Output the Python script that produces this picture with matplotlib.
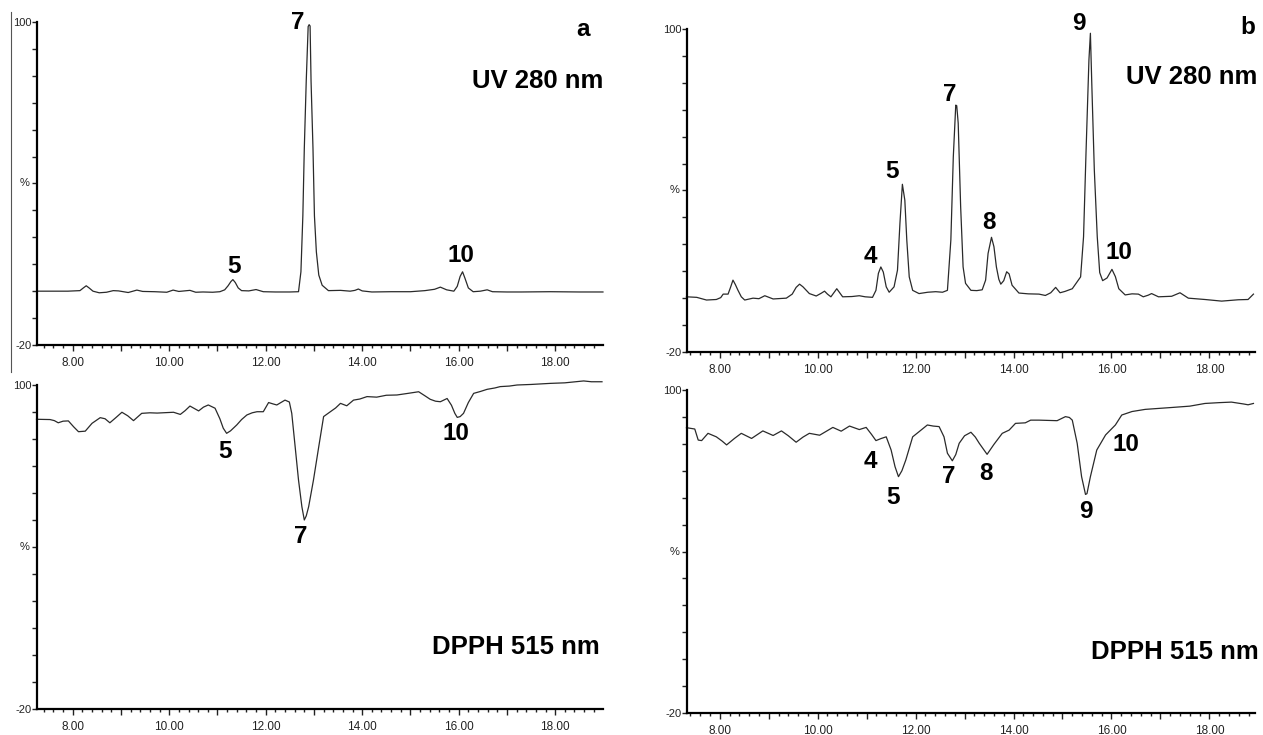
import matplotlib.pyplot as plt
import matplotlib.ticker as mticker
from matplotlib.lines import Line2D

plt.rcParams['font.family'] = ['Liberation Sans', 'DejaVu Sans']

# chromatogram a, UV 280 nm (retention time in min, intensity in %)
uv_a_t = [7.26, 7.9, 8.15, 8.22, 8.28, 8.34, 8.42, 8.55, 8.7, 8.84, 8.95, 9.15, 9.33, 9.45,
          9.7, 9.95, 10.08, 10.2, 10.43, 10.55, 10.7, 10.9, 11.05, 11.15, 11.22, 11.28, 11.32,
          11.37, 11.43, 11.5, 11.65, 11.8, 11.95, 12.2, 12.5, 12.68, 12.73, 12.77, 12.80,
          12.84, 12.88, 12.90, 12.92, 12.94, 12.98, 13.01, 13.05, 13.10, 13.17, 13.30, 13.55,
          13.75, 13.85, 13.92, 14.0, 14.2, 14.6, 15.0, 15.3, 15.5, 15.62, 15.75, 15.9, 15.97,
          16.03, 16.08, 16.13, 16.2, 16.3, 16.45, 16.59, 16.7, 17.0, 17.3, 17.9, 18.5, 18.99]
uv_a_v = [0, 0, 0.2, 1.2, 2.0, 1.2, 0, -0.6, -0.4, 0.2, 0.1, -0.5, 0.4, -0.1,
          -0.2, -0.4, 0.4, -0.1, 0.3, -0.4, -0.3, -0.4, -0.2, 0.5, 2.0, 3.6, 4.3,
          3.2, 1.2, 0.2, 0.1, 0.6, -0.2, -0.3, -0.3, -0.2, 7.2, 28, 53,
          78, 98.3, 99, 98.5, 78, 53, 28, 14.6, 6, 2.2, 0.2, 0.3,
          0, 0.3, 0.8, 0.1, -0.3, -0.2, -0.2, 0.2, 0.7, 1.5, 0.5, 0.0, 1.8,
          5.5, 7.2, 4.8, 1.2, -0.2, 0, 0.5, -0.2, -0.3, -0.3, -0.2, -0.3, -0.3]

# chromatogram a, DPPH 515 nm
dp_a_t = [7.25, 7.53, 7.62, 7.70, 7.80, 7.91, 8.02, 8.12, 8.26, 8.40, 8.57, 8.67, 8.77, 8.90,
          9.02, 9.14, 9.26, 9.43, 9.60, 9.75, 10.09, 10.23, 10.33, 10.43, 10.52, 10.61, 10.71,
          10.81, 10.95, 11.05, 11.12, 11.19, 11.27, 11.40, 11.50, 11.61, 11.72, 11.82, 11.95,
          12.06, 12.15, 12.23, 12.40, 12.49, 12.54, 12.61, 12.68, 12.75, 12.80, 12.84, 12.89,
          12.99, 13.10, 13.20, 13.34, 13.45, 13.55, 13.68, 13.82, 13.95, 14.10, 14.30, 14.50,
          14.72, 14.95, 15.17, 15.30, 15.41, 15.52, 15.62, 15.76, 15.85, 15.92, 15.97, 16.03,
          16.10, 16.20, 16.31, 16.45, 16.59, 16.75, 16.86, 17.05, 17.21, 17.5, 17.9, 18.2,
          18.59, 18.75, 18.97]
dp_a_v = [87.3, 87.2, 86.8, 86.0, 86.6, 86.7, 84.5, 82.7, 82.9, 85.8, 87.9, 87.5, 86.0, 88.0,
          89.9, 88.6, 86.8, 89.5, 89.7, 89.6, 89.9, 89.1, 90.5, 92.2, 91.3, 90.4, 91.8,
          92.6, 91.4, 87.5, 84.0, 82.1, 83.0, 85.2, 87.2, 88.9, 89.7, 90.1, 90.1,
          93.5, 93.0, 92.6, 94.4, 93.7, 89.5, 77.2, 64.8, 54.9, 50.0, 51.5, 54.9,
          64.8, 77.2, 88.3, 90.1, 91.5, 93.2, 92.3, 94.4, 94.8, 95.7, 95.5, 96.2,
          96.3, 96.9, 97.5, 96.0, 94.7, 94.0, 93.8, 95.0, 92.5, 89.5, 88.0, 88.3,
          89.5, 93.5, 96.9, 97.6, 98.4, 98.9, 99.4, 99.6, 100.0, 100.2, 100.6, 100.8,
          101.5, 101.2, 101.2]

# chromatogram b, UV 280 nm
uv_b_t = [7.32, 7.53, 7.73, 7.93, 8.02, 8.07, 8.17, 8.22, 8.27, 8.32, 8.37, 8.44, 8.51, 8.68,
          8.80, 8.92, 9.09, 9.36, 9.48, 9.56, 9.63, 9.70, 9.83, 9.97, 10.07, 10.14, 10.20,
          10.27, 10.33, 10.39, 10.45, 10.51, 10.70, 10.85, 10.97, 11.12, 11.19, 11.24, 11.29,
          11.34, 11.40, 11.46, 11.56, 11.63, 11.68, 11.73, 11.78, 11.82, 11.87, 11.94, 12.07,
          12.25, 12.41, 12.55, 12.65, 12.72, 12.77, 12.82, 12.84, 12.87, 12.92, 12.97, 13.02,
          13.13, 13.25, 13.36, 13.43, 13.48, 13.55, 13.60, 13.65, 13.70, 13.74, 13.80, 13.86,
          13.91, 13.97, 14.11, 14.30, 14.52, 14.65, 14.76, 14.86, 14.95, 15.05, 15.20, 15.37,
          15.43, 15.48, 15.54, 15.57, 15.60, 15.65, 15.71, 15.76, 15.82, 15.91, 16.01, 16.08,
          16.15, 16.28, 16.42, 16.55, 16.65, 16.75, 16.82, 16.96, 17.23, 17.40, 17.57, 17.91,
          18.25, 18.59, 18.79, 18.90]
uv_b_v = [0.5, 0.3, -0.7, -0.5, 0.2, 1.5, 1.5, 4.0, 6.7, 5.0, 3.0, 0.5, -0.7, 0.0,
          -0.2, 0.9, -0.3, 0.0, 1.5, 4.0, 5.2, 4.2, 1.7, 0.8, 1.8, 2.6, 1.5,
          0.5, 2.0, 3.5, 2.0, 0.5, 0.6, 0.9, 0.5, 0.3, 2.9, 9.2, 11.6,
          9.7, 4.2, 2.2, 4.2, 10.4, 27.8, 42.3, 36.4, 21.6, 7.9, 2.9, 1.7,
          2.2, 2.4, 2.2, 2.9, 21.6, 52.5, 71.7, 71.5, 65.0, 34.0, 11.6, 5.5,
          2.9, 2.8, 3.1, 6.7, 16.6, 22.6, 19.1, 11.6, 7.0, 5.2, 6.5, 9.8,
          9.0, 4.8, 1.9, 1.6, 1.5, 1.0, 2.0, 4.0, 2.0, 2.5, 3.5, 7.9,
          22.8, 53.8, 88.5, 98.4, 78.6, 47.6, 22.8, 9.5, 6.5, 7.5, 10.7, 8.0,
          3.5, 1.2, 1.6, 1.5, 0.5, 1.1, 1.7, 0.5, 0.7, 2.0, 0.0, -0.5,
          -1.1, -0.6, -0.5, 1.5]

# chromatogram b, DPPH 515 nm
dp_b_t = [7.32, 7.49, 7.56, 7.63, 7.76, 7.93, 8.05, 8.14, 8.30, 8.44, 8.65, 8.88, 9.09, 9.26,
          9.40, 9.56, 9.70, 9.83, 10.04, 10.31, 10.48, 10.65, 10.85, 10.99, 11.10, 11.19,
          11.30, 11.40, 11.50, 11.58, 11.65, 11.72, 11.80, 11.94, 12.07, 12.24, 12.36, 12.48,
          12.58, 12.65, 12.75, 12.82, 12.89, 13.00, 13.13, 13.22, 13.30, 13.46, 13.60, 13.77,
          13.91, 14.04, 14.24, 14.35, 14.52, 14.89, 15.06, 15.14, 15.20, 15.30, 15.39, 15.47,
          15.50, 15.57, 15.70, 15.88, 16.08, 16.21, 16.42, 16.69, 17.23, 17.60, 17.91, 18.20,
          18.45, 18.70, 18.79, 18.90]
dp_b_v = [86.0, 85.5, 81.4, 81.2, 83.9, 82.6, 81.0, 79.6, 82.0, 83.9, 82.0, 84.8, 83.1, 84.8,
          83.0, 80.6, 82.5, 83.9, 83.2, 86.1, 84.7, 86.6, 85.3, 86.1, 83.5, 81.2,
          82.0, 82.6, 77.7, 71.5, 67.8, 70.0, 74.0, 82.6, 84.5, 87.0, 86.6, 86.4,
          82.6, 76.5, 73.7, 76.0, 80.2, 83.0, 84.3, 82.5, 80.2, 76.1, 79.8, 83.9,
          85.1, 87.6, 87.8, 88.8, 88.8, 88.6, 90.1, 89.8, 88.8, 80.2, 67.8, 61.2,
          61.5, 67.8, 77.7, 83.3, 87.0, 90.7, 92.0, 92.8, 93.5, 94.0, 95.0, 95.3,
          95.5, 94.8, 94.5, 95.0]

# peak numbers: (label, time, %)
lab_uv_a = [('5', 11.35, 9.0), ('7', 12.67, 99.8), ('10', 16.04, 13.4)]
lab_dp_a = [('5', 11.16, 75.2), ('7', 12.73, 43.8), ('10', 15.95, 82.2)]
lab_uv_b = [('4', 11.08, 15.4), ('5', 11.52, 47.2), ('7', 12.70, 75.8), ('8', 13.50, 28.1),
            ('9', 15.33, 102.1), ('10', 16.15, 16.9)]
lab_dp_b = [('4', 11.07, 73.6), ('5', 11.54, 60.0), ('7', 12.68, 67.8), ('8', 13.43, 68.8),
            ('9', 15.47, 54.8), ('10', 16.30, 79.9)]

fig = plt.figure(figsize=(12.63, 7.35), dpi=100)

ax1 = fig.add_axes([0.0293, 0.5306, 0.4481, 0.4395])
ax2 = fig.add_axes([0.0293, 0.0354, 0.4481, 0.4408])
ax3 = fig.add_axes([0.5439, 0.5211, 0.4497, 0.4395])
ax4 = fig.add_axes([0.5439, 0.0299, 0.4497, 0.4395])


def setup(ax, xlim):
    ax.set_xlim(*xlim)
    ax.set_ylim(-20, 100)
    ax.spines['top'].set_visible(False)
    ax.spines['right'].set_visible(False)
    ax.spines['left'].set_linewidth(1.6)
    ax.spines['bottom'].set_linewidth(1.6)
    ax.yaxis.set_major_locator(mticker.FixedLocator(range(-20, 101, 10)))
    ax.yaxis.set_major_formatter(mticker.FuncFormatter(
        lambda v, p: '%d' % v if round(v) in (100, -20) else ''))
    ax.xaxis.set_major_locator(mticker.MultipleLocator(1))
    ax.xaxis.set_minor_locator(mticker.MultipleLocator(0.2))
    ax.xaxis.set_major_formatter(mticker.FuncFormatter(
        lambda v, p: '%.2f' % v if round(v) % 2 == 0 else ''))
    ax.tick_params(axis='y', length=3.5, width=1, pad=0.5, labelsize=8, colors='#222')
    ax.tick_params(axis='x', which='major', length=4.5, width=1, pad=4, labelsize=8.5,
                   colors='#222')
    ax.tick_params(axis='x', which='minor', length=2, width=1, colors='#222')
    ax.text(-0.022, 40, '%', transform=ax.get_yaxis_transform(), ha='center', va='center',
            fontsize=8, color='#222')


setup(ax1, (7.26, 18.99))
setup(ax2, (7.26, 18.99))
setup(ax3, (7.33, 18.93))
setup(ax4, (7.33, 18.93))

line_kw = dict(color='#2a2a2a', lw=0.9, clip_on=False, solid_joinstyle='round')
ax1.plot(uv_a_t, uv_a_v, **line_kw)
ax2.plot(dp_a_t, dp_a_v, **line_kw)
ax3.plot(uv_b_t, uv_b_v, **line_kw)
ax4.plot(dp_b_t, dp_b_v, **line_kw)

for ax, labs in [(ax1, lab_uv_a), (ax2, lab_dp_a), (ax3, lab_uv_b), (ax4, lab_dp_b)]:
    for s, x, y in labs:
        ax.text(x, y, s, ha='center', va='center', fontsize=17.5, fontweight='bold',
                clip_on=False)

bold = dict(fontsize=18.5, fontweight='bold', ha='right', va='center')
ax1.text(0.965, 0.978, 'a', transform=ax1.transAxes, fontsize=17.5, fontweight='bold',
         ha='center', va='center')
ax1.text(1.0, 0.817, 'UV 280 nm', transform=ax1.transAxes, **bold)
ax2.text(0.995, 0.19, 'DPPH 515 nm', transform=ax2.transAxes, **bold)
ax3.text(0.988, 1.005, 'b', transform=ax3.transAxes, fontsize=17.5, fontweight='bold',
         ha='center', va='center')
ax3.text(1.005, 0.85, 'UV 280 nm', transform=ax3.transAxes, **bold)
ax4.text(1.007, 0.19, 'DPPH 515 nm', transform=ax4.transAxes, **bold)

# thin border line left over at the far left of panel a
fig.add_artist(Line2D([11 / 1263, 11 / 1263], [1 - 12 / 735, 1 - 372 / 735],
                      color='#555', lw=0.8))

plt.savefig('out.png', dpi=100)
